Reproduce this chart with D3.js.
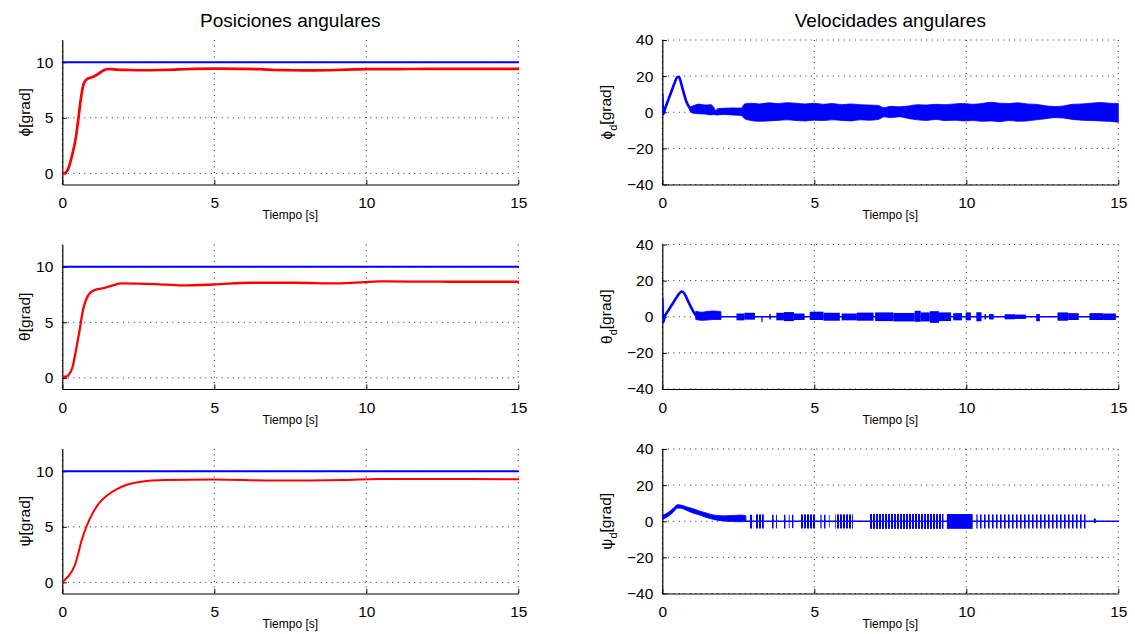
<!DOCTYPE html>
<html><head><meta charset="utf-8">
<script src="https://cdn.jsdelivr.net/npm/d3@7"></script>
<style>
body{margin:0;background:#fff}
text{font-family:"Liberation Sans",Arial,Helvetica,sans-serif;fill:#000}
</style>
</head><body>
<svg id="c" width="1135" height="634"></svg>
<script>
// ---------- data ----------
const timeDomain = [0, 15];
const timeTicks = [0, 5, 10, 15];
const posDomain = [-1, 12];
const posTicks = [0, 5, 10];
const velDomain = [-40, 40];
const velTicks = [-40, -20, 0, 20, 40];
const titles = ["Posiciones angulares", "Velocidades angulares"];
const xLabel = "Tiempo [s]";
const posLabels = ["\u03D5", "θ", "ψ"];
const velLabels = ["\u03D5", "θ", "ψ"];

// reference (desired) angle, degrees
const reference = [[0, 10], [15, 10]];

// angular positions [t, deg]
const phiPos = [[0,0],[0.08,0.02],[0.14,0.15],[0.22,0.6],[0.31,1.5],[0.38,2.3],[0.45,3.3],[0.53,4.95],[0.62,6.9],[0.71,8.1],[0.82,8.5],[0.92,8.6],[1.02,8.7],[1.13,8.85],[1.24,9.06],[1.35,9.25],[1.46,9.37],[1.6,9.38],[1.8,9.33],[2.2,9.3],[2.7,9.28],[3.2,9.3],[3.8,9.35],[4.3,9.4],[5,9.42],[5.8,9.4],[6.5,9.38],[7,9.3],[7.6,9.28],[8.3,9.27],[9,9.3],[9.6,9.35],[10,9.38],[11,9.38],[12,9.4],[13,9.4],[14,9.4],[15,9.4]];
const thetaPos = [[0,0.1],[0.1,0.1],[0.2,0.24],[0.34,1.0],[0.45,2.5],[0.57,4.3],[0.68,6.1],[0.79,7.1],[0.93,7.7],[1.13,7.96],[1.36,8.08],[1.7,8.35],[1.92,8.5],[3.05,8.44],[3.96,8.32],[4.98,8.4],[6.2,8.56],[7.6,8.56],[9.05,8.5],[9.95,8.62],[10.4,8.68],[12.7,8.65],[15,8.65]];
const psiPos = [[0,0],[0.11,0.3],[0.23,0.66],[0.4,1.46],[0.51,2.45],[0.62,3.64],[0.79,5.0],[1.02,6.33],[1.24,7.22],[1.47,7.82],[1.81,8.42],[2.15,8.8],[2.49,9.0],[2.94,9.16],[3.39,9.22],[4.98,9.25],[7.0,9.16],[9.28,9.22],[10.4,9.31],[12.7,9.31],[15,9.28]];

// angular velocities: transient line [t, deg/s]
const phiVelLine = [[0,10],[0.03,-1],[0.1,2.5],[0.2,7],[0.3,11.5],[0.4,16],[0.5,19.5],[0.55,19.5],[0.62,16],[0.7,11],[0.8,5.5],[0.9,2.5],[0.95,1.5]];
const thetaVelLine = [[0,10],[0.03,-3],[0.08,0],[0.2,3.5],[0.35,7.5],[0.5,11.5],[0.64,14],[0.72,13],[0.85,8.5],[1.0,3.5],[1.1,1],[1.15,0.5]];
const psiVelZero = [[2.7,0],[15,0]];
const thetaVelZero = [[1.9,0],[15,0]];

// noise envelopes [t, upper, lower]
const phiVelBand = [[0.9,3,1],[1.0,3.5,-0.5],[1.2,4.5,-0.8],[1.4,4,-1],[1.6,4.2,-1.5],[1.7,2.5,-1.2],[1.75,1,-1.5],[1.82,2,-1.5],[2.0,2.2,-1.2],[2.3,2.4,-1.5],[2.6,2.3,-1.8],[2.7,4.5,-3.5],[2.9,5,-4.5],[3.2,4.6,-5],[3.5,5.2,-4.8],[3.8,4.8,-4.5],[4.1,5.3,-4.2],[4.4,5,-4.6],[4.7,4.6,-4.8],[5.0,5,-4.4],[5.3,4.4,-4.6],[5.6,4.8,-4.2],[5.9,4.2,-4.5],[6.2,4.6,-4.8],[6.5,4.2,-4.2],[6.8,4,-4.4],[7.1,3.8,-4],[7.3,2.5,-2.5],[7.5,3.3,-3],[7.8,3,-2.5],[8.1,3.5,-3.5],[8.4,4.2,-4.2],[8.7,4,-4.5],[9.0,4.4,-4],[9.3,4.2,-4.6],[9.6,4.6,-4.4],[9.9,4.8,-4.8],[10.2,4.4,-4.6],[10.5,4.8,-5],[10.8,5.5,-4.8],[11.1,5,-5.2],[11.4,4.8,-4.6],[11.7,5.2,-5],[12.0,4.6,-4.8],[12.3,4.4,-4.2],[12.6,3.6,-3.6],[12.9,3.2,-3],[13.2,3.5,-3.2],[13.5,4.4,-4],[13.8,4.6,-4.4],[14.1,5,-4.6],[14.4,5.4,-4.8],[14.7,5,-5],[15,4.8,-5.5]];
const thetaVelBand = [[1.1,3,-1.5],[1.3,2.5,-2],[1.5,3,-1.8],[1.7,3.2,-1.5],[1.93,2.8,-1.5]];
const psiVelBand = [[0,3.2,0.8],[0.1,4,1.8],[0.2,5,2.8],[0.35,7,4.8],[0.5,9.2,7.2],[0.6,9,7.2],[0.8,8,6],[1.0,7,4.6],[1.2,5.8,3.6],[1.4,4.8,2.4],[1.6,3.8,1.4],[1.8,3.2,0.6],[2.0,3,0.2],[2.3,3.2,-0.2],[2.6,3.4,-0.3],[2.75,3,0]];

// noise bursts [t0, t1, upper, lower, density (1 solid, 2 heavy stripes, 3 light stripes)]
const thetaVelBursts = [[2.44,2.7,1.8,-2,1],[2.7,3.05,2.2,-1.6,1],[3.26,3.3,0,-3,1],[3.52,3.57,1.5,-1.5,1],[3.75,4.0,2.2,-2,1],[4.0,4.33,2.6,-2.4,1],[4.33,4.68,1.8,-1.8,1],[4.85,5.3,2.8,-1.8,1],[5.3,5.84,2.2,-2.2,1],[5.9,6.4,1.8,-2,1],[6.4,6.95,2.3,-2.2,1],[7.0,7.6,2.4,-2.4,1],[7.6,8.3,2.1,-2.6,1],[8.3,8.5,3.3,-2.8,1],[8.5,8.8,2.4,-2.6,1],[8.8,9.1,3.1,-3.4,1],[9.1,9.5,2.4,-2.4,1],[9.57,9.86,2,-2,1],[9.98,10.15,2.4,-2,1],[10.33,10.5,2.5,-2.5,1],[10.6,10.65,1.5,-1.5,1],[10.75,10.9,1.5,-1.5,1],[11.26,11.6,1.4,-1.4,1],[11.6,11.96,1.2,-1.2,1],[12.3,12.42,1.5,-2.5,1],[13.0,13.35,2.4,-2.2,1],[13.35,13.7,2.0,-1.8,1],[14.05,14.5,2,-1.8,1],[14.5,14.92,1.8,-1.8,1]];
const psiVelBursts = [[2.85,2.99,3.6,-4,2],[3.07,3.34,3.8,-4,2],[3.61,3.77,3.6,-4,3],[3.95,4.06,3.6,-4,3],[4.16,4.32,3.6,-3.8,3],[4.53,5.05,3.8,-4,2],[5.2,5.38,3.6,-4,3],[5.48,5.58,3.4,-3.5,3],[5.69,6.27,3.8,-4,2],[6.81,9.25,4,-4.2,2],[9.36,10.21,4,-4.2,1],[10.33,13.93,3.8,-4,3],[14.19,14.26,1.5,-1,1]];

// ---------- layout ----------
const svg = d3.select("#c");
const cols = [[62.3, 518.3], [662.3, 1118.3]];
const rows = [[40, 184.5], [244.5, 389], [449, 593.5]];
const RED = "#ff0000", BLUE = "#0000ff";

const defs = svg.append("defs");
function stripe(id, w, bw) {
  const p = defs.append("pattern").attr("id", id).attr("patternUnits", "userSpaceOnUse")
    .attr("width", w).attr("height", 10);
  p.append("rect").attr("width", bw).attr("height", 10).attr("fill", BLUE);
}
stripe("s2", 3, 2);
stripe("s3", 4, 1.6);

function panel(ci, ri, yDomain, yTicks, label, sub) {
  const [x0, x1] = cols[ci], [y0, y1] = rows[ri];
  const x = d3.scaleLinear().domain(timeDomain).range([x0, x1]);
  const y = d3.scaleLinear().domain(yDomain).range([y1, y0]);
  const g = svg.append("g");
  const cid = "clip" + ci + ri;
  defs.append("clipPath").attr("id", cid).append("rect")
    .attr("x", x0).attr("y", y0 - 2).attr("width", x1 - x0 + 1).attr("height", y1 - y0 + 2);
  // grid
  const grid = g.append("g").attr("stroke", "#222").attr("stroke-width", 1).attr("stroke-dasharray", "1,4.5");
  timeTicks.forEach(t => grid.append("line").attr("x1", x(t)).attr("x2", x(t)).attr("y1", y0).attr("y2", y1));
  yTicks.forEach(v => grid.append("line").attr("x1", x0).attr("x2", x1).attr("y1", y(v)).attr("y2", y(v)));
  // axes
  const xa = g.append("g").attr("transform", `translate(0,${y1})`)
    .call(d3.axisBottom(x).tickValues(timeTicks).tickSizeInner(-4.5).tickSizeOuter(0).tickPadding(9).tickFormat(d3.format("d")));
  const ya = g.append("g").attr("transform", `translate(${x0},0)`)
    .call(d3.axisLeft(y).tickValues(yTicks).tickSizeInner(-4.5).tickSizeOuter(0).tickPadding(9)
      .tickFormat(d => d < 0 ? "\u2212" + Math.abs(d) : String(d)));
  [xa, ya].forEach(a => {
    a.select(".domain").attr("stroke", "#000").attr("stroke-width", 1.2);
    a.selectAll(".tick line").attr("stroke", "#000");
    a.selectAll("text").attr("font-size", 15.5).attr("font-family", "Liberation Sans, Arial, sans-serif").attr("fill", "#000");
  });
  xa.selectAll("text").attr("dy", "0.95em");
  // x label
  g.append("text").attr("x", (x0 + x1) / 2).attr("y", y1 + 34.5).attr("text-anchor", "middle")
    .attr("font-size", 12).text(xLabel);
  // y label
  const yl = g.append("text").attr("text-anchor", "middle").attr("font-size", 15.5)
    .attr("transform", `translate(${ci === 0 ? 25 : 607},${(y0 + y1) / 2}) rotate(-90)`).attr("dy", "0.35em");
  yl.append("tspan").text(label);
  if (sub) yl.append("tspan").attr("font-size", 11).attr("dy", "0.4em").text(sub);
  if (sub) yl.append("tspan").attr("dy", "-0.4em").text("[grad]"); else yl.append("tspan").text("[grad]");
  const plot = svg.append("g").attr("clip-path", `url(#${cid})`);
  return {x, y, plot};
}

function line(p, data, color, w, smooth) {
  p.plot.append("path").datum(data).attr("fill", "none").attr("stroke", color).attr("stroke-width", w)
    .attr("stroke-linejoin", "round").attr("stroke-linecap", "round")
    .attr("d", d3.line().curve(smooth ? d3.curveMonotoneX : d3.curveLinear).x(d => p.x(d[0])).y(d => p.y(d[1])));
}
function band(p, data) {
  p.plot.append("path").datum(data).attr("fill", BLUE).attr("stroke", BLUE).attr("stroke-width", 0.8)
    .attr("d", d3.area().curve(d3.curveMonotoneX).x(d => p.x(d[0])).y0(d => p.y(d[2])).y1(d => p.y(d[1])));
}
function bursts(p, data) {
  p.plot.selectAll(null).data(data).enter().append("rect")
    .attr("x", d => p.x(d[0])).attr("width", d => Math.max(1.2, p.x(d[1]) - p.x(d[0])))
    .attr("y", d => p.y(d[2])).attr("height", d => p.y(d[3]) - p.y(d[2]))
    .attr("fill", d => d[4] === 1 ? BLUE : d[4] === 2 ? "url(#s2)" : "url(#s3)");
}

// titles
titles.forEach((t, i) => svg.append("text").attr("x", (cols[i][0] + cols[i][1]) / 2).attr("y", 27)
  .attr("text-anchor", "middle").attr("font-size", 19).text(t));

// left column: positions
const posData = [phiPos, thetaPos, psiPos];
const posWidths = [2.7, 2.3, 2.0];
posData.forEach((d, i) => {
  const p = panel(0, i, posDomain, posTicks, posLabels[i], null);
  line(p, reference, BLUE, 1.8, false);
  line(p, d, RED, posWidths[i], true);
});

// right column: velocities
const p1 = panel(1, 0, velDomain, velTicks, velLabels[0], "d");
band(p1, phiVelBand);
line(p1, phiVelLine, BLUE, 2.6, true);

const p2 = panel(1, 1, velDomain, velTicks, velLabels[1], "d");
line(p2, thetaVelZero, BLUE, 1.4, false);
bursts(p2, thetaVelBursts);
band(p2, thetaVelBand);
line(p2, thetaVelLine, BLUE, 2.6, true);

const p3 = panel(1, 2, velDomain, velTicks, velLabels[2], "d");
line(p3, psiVelZero, BLUE, 1.4, false);
bursts(p3, psiVelBursts);
band(p3, psiVelBand);
</script>
</body></html>
